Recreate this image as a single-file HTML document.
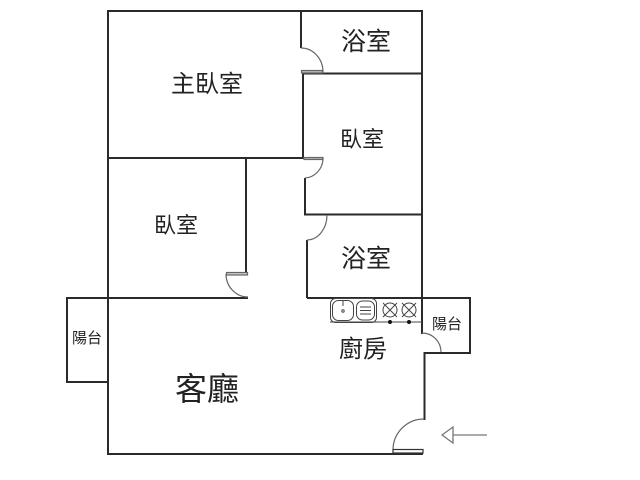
<!DOCTYPE html>
<html><head><meta charset="utf-8"><style>
html,body{margin:0;padding:0;background:#fff}
svg{display:block}
text{font-family:"Liberation Sans","Noto Sans CJK TC",sans-serif;fill:#222;text-anchor:middle}
</style></head><body>
<svg width="640" height="480" viewBox="0 0 640 480" xmlns="http://www.w3.org/2000/svg">
<g fill="none" stroke="#2a2a2a" stroke-width="2">
<path d="M108 11H422V298M108 10V454H423"/>
<path d="M301 11V48"/>
<path d="M303 73.500H422M303 72V158M108 158H304"/>
<path d="M305 178V215M304 214.500H422"/>
<path d="M307 240V298"/>
<path d="M246 158V273"/>
<path d="M67 298H248M307 298H470V353H424.500V420"/>
<path d="M67 297V382H108"/>
<path d="M422 298V334"/>
</g>
<g fill="none" stroke="#666" stroke-width="1.200">
<path d="M301 48A22 24 0 0 1 323 72"/>
<path d="M323 159A19 20 0 0 1 305 178"/>
<path d="M327 215A20 25 0 0 1 307 240"/>
<path d="M226 274A22 23 0 0 0 248 297"/>
<path d="M422 333A19 19 0 0 1 441 352"/>
<path d="M424 419A31 31 0 0 0 393 450"/>
<rect x="301.500" y="70.500" width="21" height="2.500" fill="#bbb"/>
<rect x="304" y="157.500" width="19" height="2" fill="#bbb"/>
<rect x="226.500" y="272.500" width="21" height="2.500" fill="#ccc"/>
<rect x="393" y="449.500" width="30" height="3.500" fill="#fff" stroke="#333"/>
</g>
<g fill="none" stroke="#444" stroke-width="1">
<path d="M330 322H422"/>
<rect x="330.500" y="298.500" width="46" height="24" rx="5"/>
<rect x="332.500" y="300.500" width="21" height="20" rx="6"/>
<rect x="356.500" y="301" width="18" height="19" rx="6"/>
<path d="M360 307H371M360 310.500H371M360 314H371"/>
<path d="M343 300V306"/>
<circle cx="343" cy="311" r="1.200"/>
<circle cx="390" cy="310" r="7"/><circle cx="409" cy="310" r="7"/>
<path d="M383 303L397 317M397 303L383 317M402 303L416 317M416 303L402 317"/>
</g>
<circle cx="390" cy="322" r="2" fill="#111"/><circle cx="409" cy="322" r="2" fill="#111"/>
<path d="M442 435L453 427V443ZM453 435H487" fill="none" stroke="#777" stroke-width="1.300"/>
<text x="207" y="92" font-size="24">主臥室</text>
<text x="366" y="50" font-size="25">浴室</text>
<text x="362" y="147" font-size="22">臥室</text>
<text x="176" y="233" font-size="22">臥室</text>
<text x="366" y="267" font-size="25">浴室</text>
<text x="87" y="343" font-size="15">陽台</text>
<text x="447" y="329" font-size="15">陽台</text>
<text x="363" y="357" font-size="24">廚房</text>
<text x="207" y="400" font-size="32">客廳</text>
</svg>
</body></html>
